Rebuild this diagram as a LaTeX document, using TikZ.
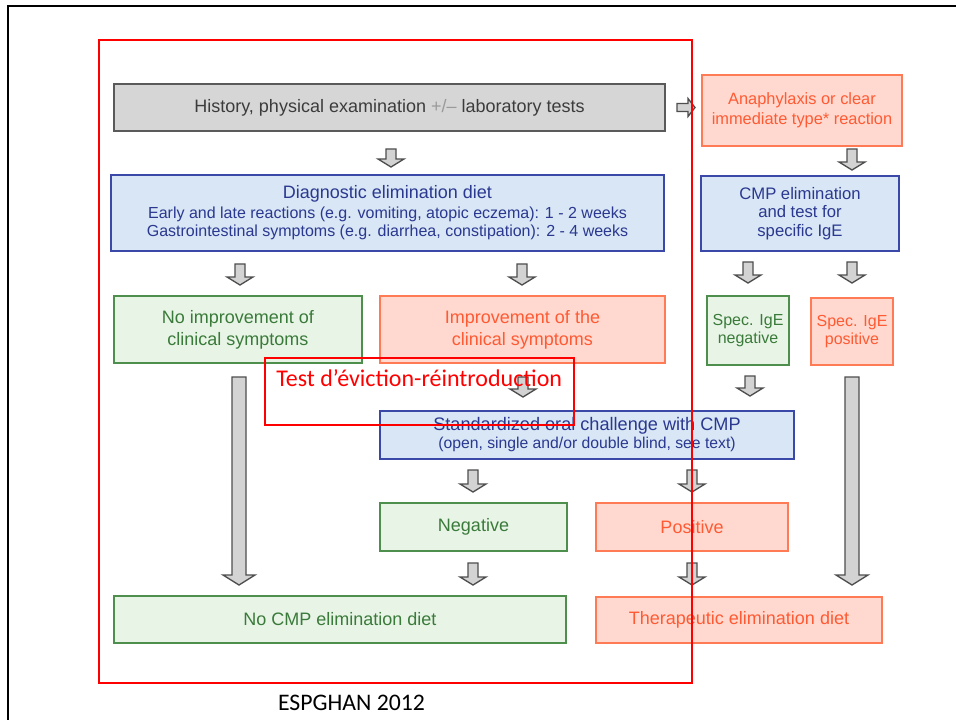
\documentclass[tikz,border=0pt]{standalone}
\usepackage{fontspec}
\setmainfont{Liberation Sans}
\newfontfamily\calib{Carlito}
\usetikzlibrary{calc}
\definecolor{grayfill}{HTML}{D6D6D6}
\definecolor{grayline}{HTML}{5A5A5A}
\definecolor{graytext}{HTML}{3C3C3C}
\definecolor{plusmin}{HTML}{9A9A9A}
\definecolor{bluefill}{HTML}{D8E6F5}
\definecolor{blueline}{HTML}{3A48A8}
\definecolor{bluetext}{HTML}{2A3890}
\definecolor{greenfill}{HTML}{E8F5E6}
\definecolor{greenline}{HTML}{4E8F4E}
\definecolor{greentext}{HTML}{3A7A3A}
\definecolor{salfill}{HTML}{FFD9CF}
\definecolor{salline}{HTML}{FF7B55}
\definecolor{saltext}{HTML}{FF5A33}
\definecolor{arrfill}{HTML}{D3D3D3}
\definecolor{arrline}{HTML}{4E4E4E}
\tikzset{
  box/.style={rectangle, inner sep=0pt, outer sep=0pt, line width=1.5pt, align=center,
    font=\fontsize{13.5}{16.5}\selectfont},
  graybox/.style={box, draw=grayline, fill=grayfill, text=graytext},
  bluebox/.style={box, draw=blueline, fill=bluefill, text=bluetext},
  greenbox/.style={box, draw=greenline, fill=greenfill, text=greentext},
  salbox/.style={box, draw=salline, fill=salfill, text=saltext},
  blockarr/.style={draw=arrline, fill=arrfill, line width=1pt, line join=miter},
  redframe/.style={draw=red, line width=1.5pt},
}
% box from pixel corners: style, name, x1, y1, x2, y2, text
\newcommand\bx[7]{%
  \pgfmathsetmacro\bxw{(#5-#3)*0.75}\pgfmathsetmacro\bxh{(#6-#4)*0.75}%
  \node[#1, minimum width=\bxw pt, minimum height=\bxh pt] (#2) at ({(#3+#5)/2},{(#4+#6)/2}) {#7};}
% downward block arrow: start, end, shaft half width, head half width, head length
\newcommand\arrdn[5]{\draw[blockarr] let \p1=#1, \p2=#2 in
  (\x1-#3,\y1) -- (\x1+#3,\y1) -- (\x1+#3,\y2+#5) -- (\x1+#4,\y2+#5) -- (\x1,\y2)
  -- (\x1-#4,\y2+#5) -- (\x1-#3,\y2+#5) -- cycle;}
% rightward block arrow
\newcommand\arrrt[5]{\draw[blockarr] let \p1=#1, \p2=#2 in
  (\x1,\y1+#3) -- (\x1,\y1-#3) -- (\x2-#5,\y1-#3) -- (\x2-#5,\y1-#4) -- (\x2,\y1)
  -- (\x2-#5,\y1+#4) -- (\x2-#5,\y1+#3) -- cycle;}
\newcommand\smalldn[2]{\arrdn{#1}{#2}{3.75pt}{9.75pt}{6pt}}
\newcommand\longdn[2]{\arrdn{#1}{#2}{5.25pt}{12pt}{7.5pt}}
\begin{document}
\begin{tikzpicture}[x=0.75pt,y=-0.75pt]
\useasboundingbox (0,0) rectangle (956,720);
\fill[white] (0,0) rectangle (956,720);
\draw[line width=1.9pt, black] (8,720) -- (8,6) -- (956,6);

% boxes
\bx{graybox}{hist}{114}{84}{665}{131}
  {History, physical examination {\color{plusmin}+/–} laboratory tests}
\bx{salbox, font=\fontsize{12.3}{15}\selectfont}{anaph}{702}{75}{902}{146}
  {Anaphylaxis or clear\\immediate type* reaction}
\bx{bluebox, font=\fontsize{12}{13.5}\selectfont}{diag}{111}{175}{664}{251}
  {{\fontsize{13.5}{13.5}\selectfont Diagnostic elimination diet}\\[1.5pt]
   Early and late reactions (e.g. vomiting, atopic eczema): 1 - 2 weeks\\
   Gastrointestinal symptoms (e.g. diarrhea, constipation): 2 - 4 weeks}
\bx{bluebox, font=\fontsize{12.5}{14}\selectfont}{cmp}{701}{176}{899}{251}
  {CMP elimination\\and test for\\specific IgE}
\bx{greenbox}{noimp}{114}{296}{362}{363}
  {No improvement of\\clinical symptoms}
\bx{salbox}{imp}{380}{296}{665}{363}
  {Improvement of the\\clinical symptoms}
\bx{greenbox, font=\fontsize{12}{13}\selectfont}{specneg}{707}{296}{789}{365}
  {Spec. IgE\\negative}
\bx{salbox, font=\fontsize{12}{13}\selectfont}{specpos}{811}{298}{893}{365}
  {Spec. IgE\\positive}
\bx{bluebox, font=\fontsize{11.8}{13.5}\selectfont}{std}{380}{411}{794}{459}
  {{\fontsize{13.6}{13.5}\selectfont Standardized oral challenge with CMP}\\
   (open, single and/or double blind, see text)}
\bx{greenbox}{neg}{380}{503}{567}{551}{Negative}
\bx{salbox}{pos}{596}{503}{788}{551}{Positive}
\bx{greenbox}{nocmp}{114}{596}{566}{643}{No CMP elimination diet}
\bx{salbox}{ther}{596}{597}{882}{643}{Therapeutic elimination diet}

% arrows
\smalldn{($(391,0 |- hist.south)+(0,18)$)}{($(391,0 |- diag.north)+(0,-8)$)}
\arrrt{($(hist.east)+(12,0)$)}{($(anaph.west |- hist.east)+(-7,0)$)}{3pt}{6.75pt}{5.25pt}
\smalldn{($(852,0 |- anaph.south)+(0,3)$)}{($(852,0 |- cmp.north)+(0,-6)$)}
\smalldn{($(240,0 |- diag.south)+(0,13)$)}{($(240,0 |- noimp.north)+(0,-11)$)}
\smalldn{($(522,0 |- diag.south)+(0,13)$)}{($(522,0 |- imp.north)+(0,-11)$)}
\smalldn{($(748,0 |- cmp.south)+(0,11)$)}{($(748,0 |- specneg.north)+(0,-13)$)}
\smalldn{($(852,0 |- cmp.south)+(0,11)$)}{($(852,0 |- specpos.north)+(0,-15)$)}
\smalldn{($(523,0 |- imp.south)+(0,14)$)}{($(523,0 |- std.north)+(0,-14)$)}
\smalldn{($(750,0 |- specneg.south)+(0,11)$)}{($(750,0 |- std.north)+(0,-15)$)}
\longdn{($(239,0 |- noimp.south)+(0,14)$)}{($(239,0 |- nocmp.north)+(0,-11)$)}
\longdn{($(852,0 |- specpos.south)+(0,12)$)}{($(852,0 |- ther.north)+(0,-12)$)}
\smalldn{($(473,0 |- std.south)+(0,11)$)}{($(473,0 |- neg.north)+(0,-11)$)}
\smalldn{($(692,0 |- std.south)+(0,11)$)}{($(692,0 |- pos.north)+(0,-11)$)}
\smalldn{($(473,0 |- neg.south)+(0,12)$)}{($(473,0 |- nocmp.north)+(0,-11)$)}
\smalldn{($(692,0 |- pos.south)+(0,12)$)}{($(692,0 |- ther.north)+(0,-12)$)}

% overlays
\draw[redframe] (99,40) rectangle (692,683);
\draw[red, line width=0.8pt] (265,358) rectangle (574,425);
\node[anchor=west, inner sep=0pt, text=red, font=\calib\fontsize{18}{20}\selectfont] (tx) at (276,378)
  {Test d’éviction-réintroduction};
\node[inner sep=0pt, text=black, font=\calib\fontsize{17.8}{20}\selectfont] (src) at (351.5,703)
  {ESPGHAN 2012};
\end{tikzpicture}
\end{document}
